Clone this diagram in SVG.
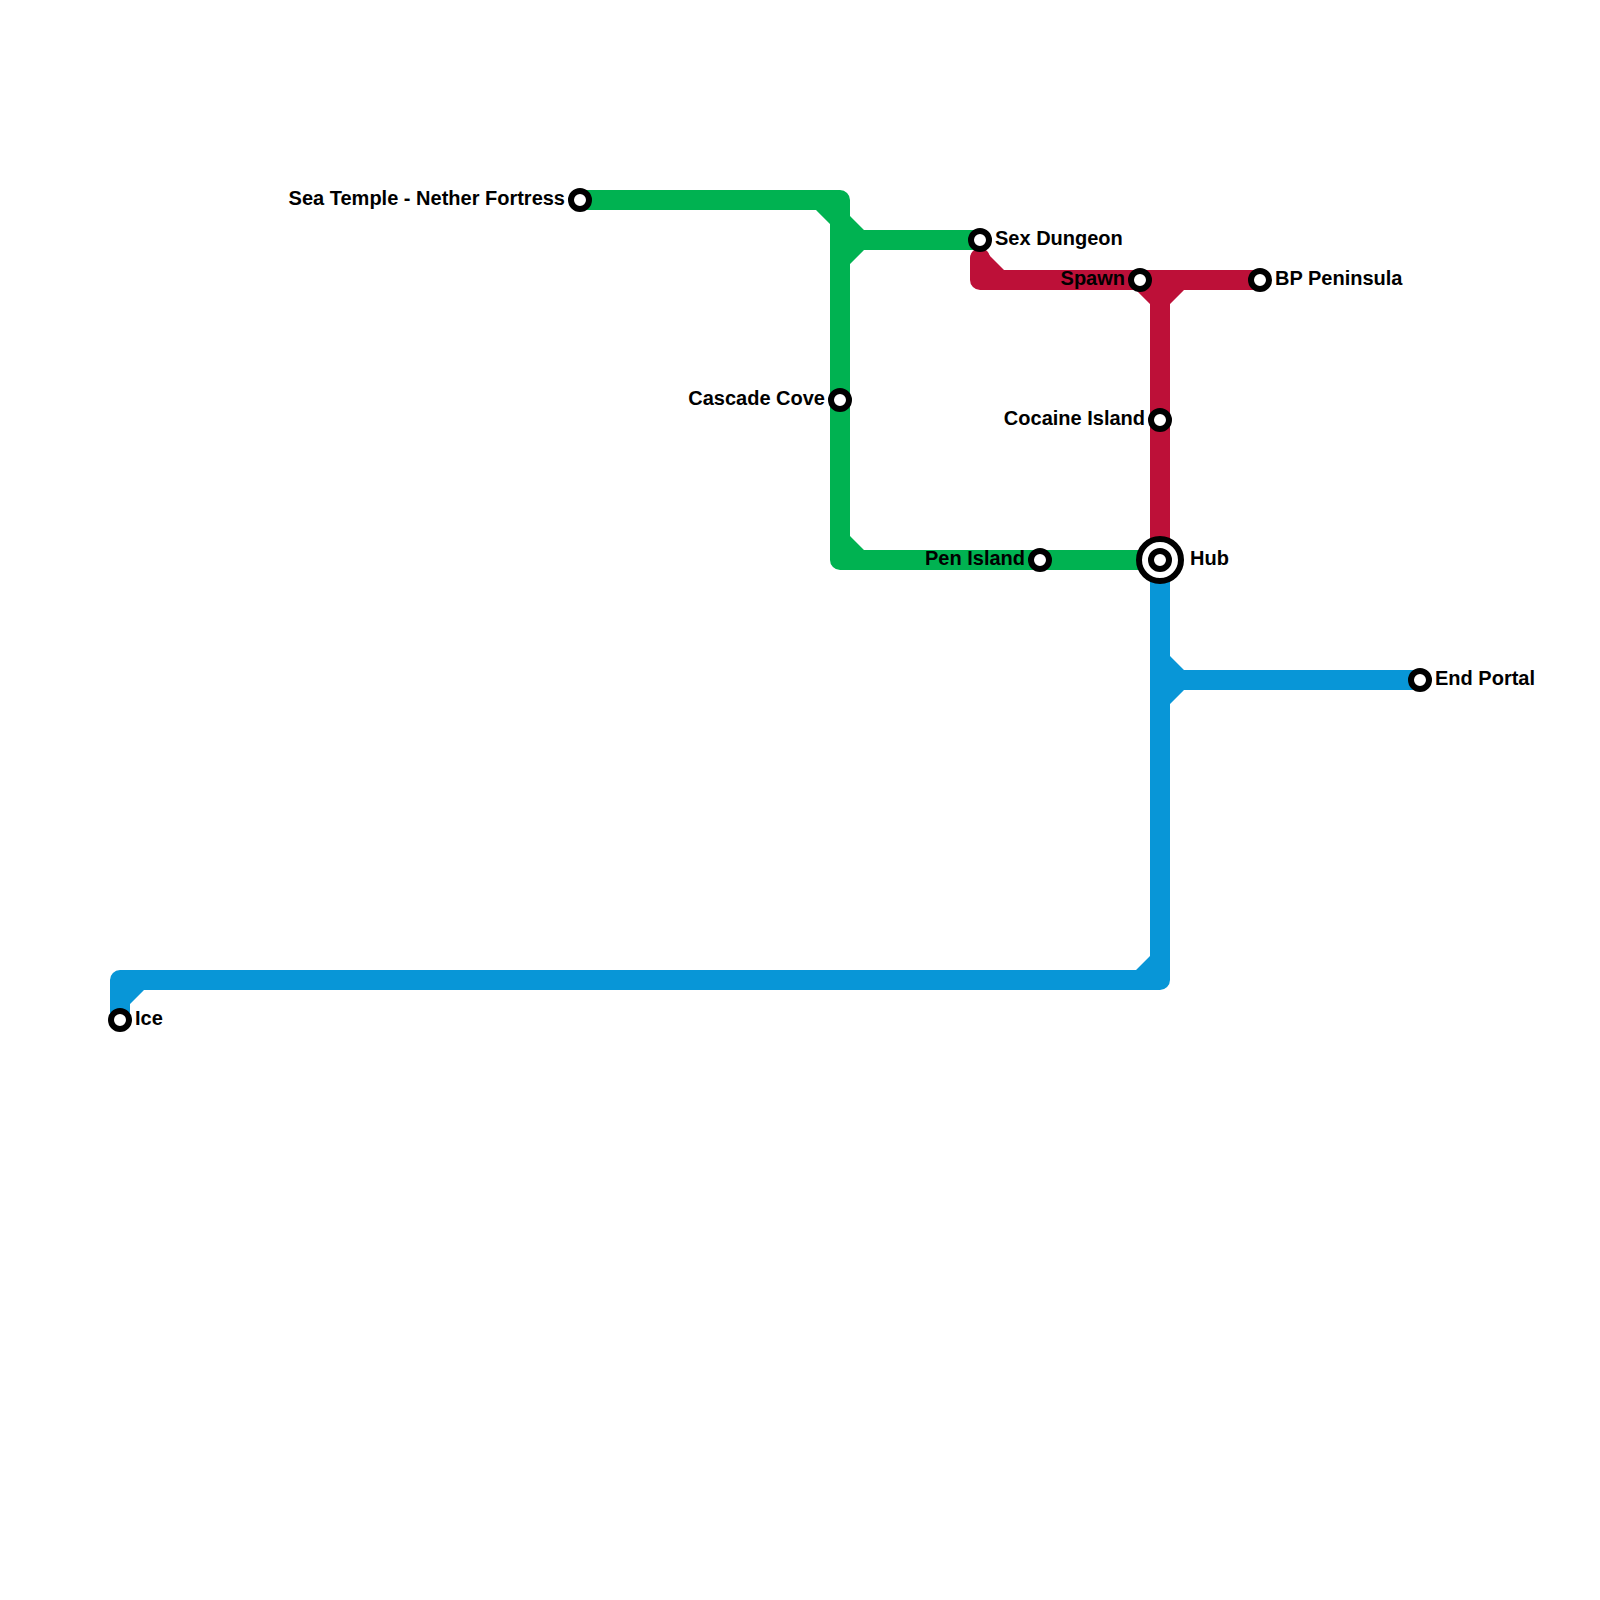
<svg xmlns="http://www.w3.org/2000/svg" width="1600" height="1600" viewBox="0 0 1600 1600">
<style>
.line{fill:none;stroke-width:20;stroke-linejoin:round;stroke-linecap:butt}
.green{stroke:#00b251}.red{stroke:#bd1038}.blue{stroke:#0896d7}
.fg{fill:#00b251}.fr{fill:#bd1038}.fb{fill:#0896d7}
.st{fill:#fff;stroke:#000;stroke-width:6}
text{font-family:"Liberation Sans",Arial,sans-serif;font-weight:700;font-size:20px;fill:#000}
.e{text-anchor:end}
</style>
<rect width="1600" height="1600" fill="#fff"/>
<g id="connectors">
<path class="line blue" d="M1160 560V980H120V1020"/>
<path class="line blue" d="M1160 680H1420"/>
<path class="fb" d="M1170 656L1184 670H1170ZM1170 690H1184L1170 704ZM1150 956V970H1136ZM130 990H144L130 1004Z"/>
<path class="line green" d="M580 200H840V560H1160"/>
<path class="line green" d="M840 240H980"/>
<path class="fg" d="M816 210H830V224ZM850 216L864 230H850ZM850 250H864L850 264ZM850 536L864 550H850Z"/>
<path class="line red" style="stroke-linecap:round" d="M980 258V280H1260"/>
<path class="line red" d="M1160 280V560"/>
<path class="fr" d="M984 250L1004 270H984ZM1136 290H1150V304ZM1170 290H1184L1170 304Z"/>
</g>
<g id="sea-temple"><circle class="st" cx="580" cy="200" r="9"/><text class="e" x="565" y="205">Sea Temple - Nether Fortress</text></g>
<g id="sex-dungeon"><circle class="st" cx="980" cy="240" r="9"/><text x="995" y="245">Sex Dungeon</text></g>
<g id="spawn"><circle class="st" cx="1140" cy="280" r="9"/><text class="e" x="1125" y="285">Spawn</text></g>
<g id="bp-peninsula"><circle class="st" cx="1260" cy="280" r="9"/><text x="1275" y="285">BP Peninsula</text></g>
<g id="cascade-cove"><circle class="st" cx="840" cy="400" r="9"/><text class="e" x="825" y="405">Cascade Cove</text></g>
<g id="cocaine-island"><circle class="st" cx="1160" cy="420" r="9"/><text class="e" x="1145" y="425">Cocaine Island</text></g>
<g id="pen-island"><circle class="st" cx="1040" cy="560" r="9"/><text class="e" x="1025" y="565">Pen Island</text></g>
<g id="hub"><circle class="st" cx="1160" cy="560" r="21"/><circle class="st" cx="1160" cy="560" r="9"/><text x="1190" y="565">Hub</text></g>
<g id="end-portal"><circle class="st" cx="1420" cy="680" r="9"/><text x="1435" y="685">End Portal</text></g>
<g id="ice"><circle class="st" cx="120" cy="1020" r="9"/><text x="135" y="1025">Ice</text></g>
</svg>
